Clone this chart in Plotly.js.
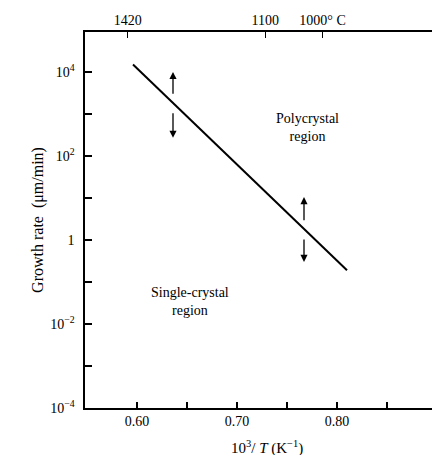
<!DOCTYPE html>
<html>
<head>
<meta charset="utf-8">
<script src="https://cdn.plot.ly/plotly-3.0.1.min.js"></script>
<style>html,body{margin:0;padding:0;background:#fff;}#chart{width:434px;height:455px;}</style>
</head>
<body>
<div id="chart"></div>
<script>
// Data
var lineX = [0.596, 0.810];          // 10^3/T (1/K)
var lineY = [15000, 0.19];            // growth rate (um/min)

var xTickVals = [0.60, 0.70, 0.80];
var xTickText = ["0.60", "0.70", "0.80"];
var xMinorVals = [0.65, 0.75, 0.85];

var yTickVals = [1e-4, 1e-2, 1, 1e2, 1e4];
var yTickText = ["10<sup>\u22124</sup>", "10<sup>\u22122</sup>", "1", "10<sup>2</sup>", "10<sup>4</sup>"];
var yMinorVals = [1e-3, 1e-1, 1e1, 1e3];

var topTempsC = [1420, 1100, 1000];
var topTickText = ["1420", "1100", "1000\u00b0 C"];

// transition-arrow positions (x) and their tail/tip growth rates
var arrowX = [0.636, 0.767];
var upTail = [2800, 2.7];
var upTip = [10000, 10.5];
var downTail = [1120, 1.12];
var downTip = [270, 0.30];

var font = "Liberation Serif, Times New Roman, serif";
var topTickVals = topTempsC.map(function (c) { return 1000 / (c + 273); });

var traces = [
  {x: lineX, y: lineY, type: "scatter", mode: "lines",
   line: {color: "#000", width: 2}, hoverinfo: "skip", showlegend: false},
  {x: topTickVals, y: [1, 1, 1], xaxis: "x2", type: "scatter", mode: "markers",
   marker: {opacity: 0}, hoverinfo: "skip", showlegend: false}
];

var ann = [];
function lg(v) { return Math.log10(v); }
for (var i = 0; i < arrowX.length; i++) {
  ann.push({x: arrowX[i], y: lg(upTip[i]), ax: arrowX[i], ay: lg(upTail[i]),
            xref: "x", yref: "y", axref: "x", ayref: "y", text: "", showarrow: true,
            arrowhead: 2, arrowsize: 1.1, arrowwidth: 1.3, arrowcolor: "#000"});
  ann.push({x: arrowX[i], y: lg(downTip[i]), ax: arrowX[i], ay: lg(downTail[i]),
            xref: "x", yref: "y", axref: "x", ayref: "y", text: "", showarrow: true,
            arrowhead: 2, arrowsize: 1.1, arrowwidth: 1.3, arrowcolor: "#000"});
}
ann.push({x: 0.770, y: lg(470), xref: "x", yref: "y", showarrow: false,
          text: "Polycrystal<br>region", font: {family: font, size: 14, color: "#000"}});
ann.push({x: 0.653, y: lg(0.035), xref: "x", yref: "y", showarrow: false,
          text: "Single-crystal<br>region", font: {family: font, size: 14, color: "#000"}});
ann.push({x: 0.525, y: 0, xref: "paper", yref: "paper", yanchor: "top", yshift: -28,
          showarrow: false,
          text: "10<sup>3</sup>/ <i>T</i> (K<sup>\u22121</sup>)", font: {family: font, size: 15, color: "#000"}});

var minorStyle = {ticks: "inside", ticklen: 6, tickwidth: 1.3, tickcolor: "#000", showgrid: false};

var layout = {
  width: 434, height: 455,
  margin: {l: 85, r: 2, t: 32, b: 47},
  paper_bgcolor: "#fff", plot_bgcolor: "#fff",
  font: {family: font, size: 14, color: "#000"},
  showlegend: false,
  xaxis: {
    range: [0.548, 0.895], tickmode: "array", tickvals: xTickVals, ticktext: xTickText,
    ticks: "inside", ticklen: 6, tickwidth: 1.3, tickcolor: "#000",
    minor: Object.assign({tickmode: "array", tickvals: xMinorVals}, minorStyle),
    showline: true, linecolor: "#000", linewidth: 1.6, showgrid: false, zeroline: false,
    tickfont: {family: font, size: 14}
  },
  xaxis2: {
    overlaying: "x", side: "top", range: [0.548, 0.895],
    tickmode: "array", tickvals: topTickVals, ticktext: topTickText,
    ticks: "inside", ticklen: 6, tickwidth: 1.3, tickcolor: "#000",
    showline: true, linecolor: "#000", linewidth: 1.6, showgrid: false, zeroline: false,
    tickfont: {family: font, size: 14}
  },
  yaxis: {
    type: "log", range: [-4, 4.95], tickmode: "array", tickvals: yTickVals, ticktext: yTickText,
    ticks: "inside", ticklen: 7, tickwidth: 1.3, tickcolor: "#000",
    minor: Object.assign({tickmode: "array", tickvals: yMinorVals}, minorStyle, {ticklen: 7}),
    showline: true, linecolor: "#000", linewidth: 1.6, showgrid: false, zeroline: false,
    tickfont: {family: font, size: 14}, ticklabelstandoff: 6,
    title: {text: "Growth rate  (\u03bcm/min)", font: {family: font, size: 16}, standoff: 2}
  },
  annotations: ann
};

Plotly.newPlot("chart", traces, layout, {displayModeBar: false, staticPlot: true});
</script>
</body>
</html>
